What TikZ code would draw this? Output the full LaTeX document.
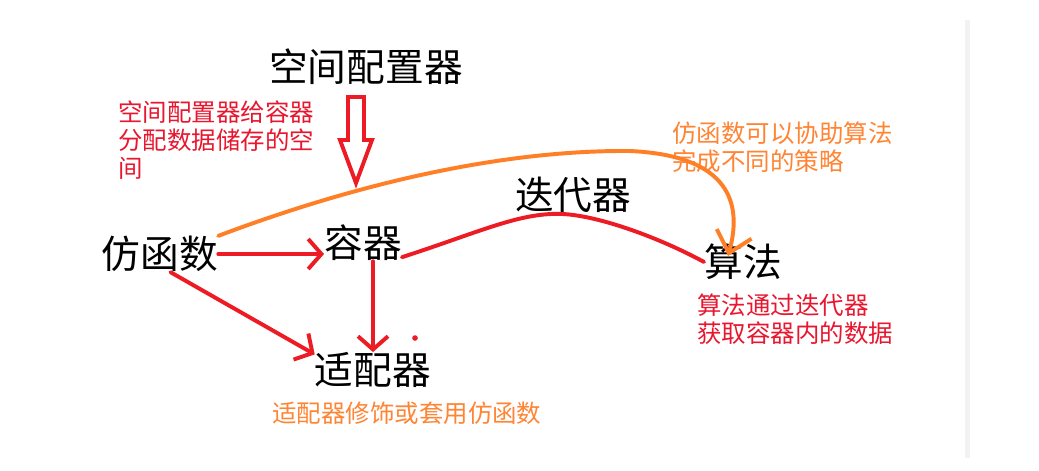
\documentclass[tikz,border=0pt]{standalone}
\usepackage{fontspec}
\setmainfont{Noto Sans CJK SC}
\usetikzlibrary{arrows.meta}
\definecolor{penred}{HTML}{ED1C24}
\definecolor{penorange}{HTML}{FF7F27}
\definecolor{notered}{HTML}{E8162E}
\definecolor{noteorange}{HTML}{FF8433}
\begin{document}
\begin{tikzpicture}[x=0.025cm,y=-0.025cm,
        part/.style={inner sep=0pt,font=\fontsize{27.5pt}{30pt}\selectfont},
        note/.style={inner sep=0pt,anchor=west,align=left,font=\fontsize{17.4pt}{20pt}\selectfont},
        redline/.style={penred,line width=2.8pt,line cap=round},
        redarrow/.style={redline,-{Straight Barb[length=3.3mm,width=7.5mm]}},
        orangeline/.style={penorange,line width=2.8pt,line cap=round}]
        \useasboundingbox[fill=white] (0,0) rectangle (1039,470);
        \fill[gray!10] (965,20) rectangle (970,458);
        %% Parts
        \node[part] (S) at (366,67) {空间配置器};
        \node[part] (F) at (160,254) {仿函数};
        \node[part] (C) at (363,243) {容器};
        \node[part] (I) at (573,195) {迭代器};
        \node[part] (L) at (743,262) {算法};
        \node[part] (A) at (373,370) {适配器};
        \coordinate (Ltip) at (728,256);
        %% Notes
        \node[note,text=notered] (N1) at (118,140) {空间配置器给容器\\分配数据储存的空\\间};
        \node[note,text=noteorange] (N2) at (672,147) {仿函数可以协助算法\\完成不同的策略};
        \node[note,text=notered] (N3) at (697,319) {算法通过迭代器\\获取容器内的数据};
        \node[note,text=noteorange] (N4) at (272,413) {适配器修饰或套用仿函数};
        %% Hollow arrow
        \draw[penred,line width=2.8pt] (348,97) -- (364,97) -- (364,140) -- (372,140)
            -- (356,183) -- (340,140) -- (348,140) -- cycle;
        %% Arrows
        \draw[redarrow] (F.east) -- (F.east -| C.west);
        \draw[redarrow] (A.north |- C.south) -- (A.north);
        \draw[redarrow] (F.-60) -- (A.165);
        \draw[redline] (C.-20) .. controls (480,232) and (520,212) .. (563,214)
            .. controls (600,216) and (660,238) .. (L.west);
        \draw[orangeline,-{Straight Barb[length=5mm,width=9mm]}] (F.north east)
            .. controls (380,175) and (520,150) .. (630,151)
            .. controls (720,155) and (745,195) .. (Ltip);
        \fill[penred] (415,338) circle[radius=2pt];
    \end{tikzpicture}
\end{document}
